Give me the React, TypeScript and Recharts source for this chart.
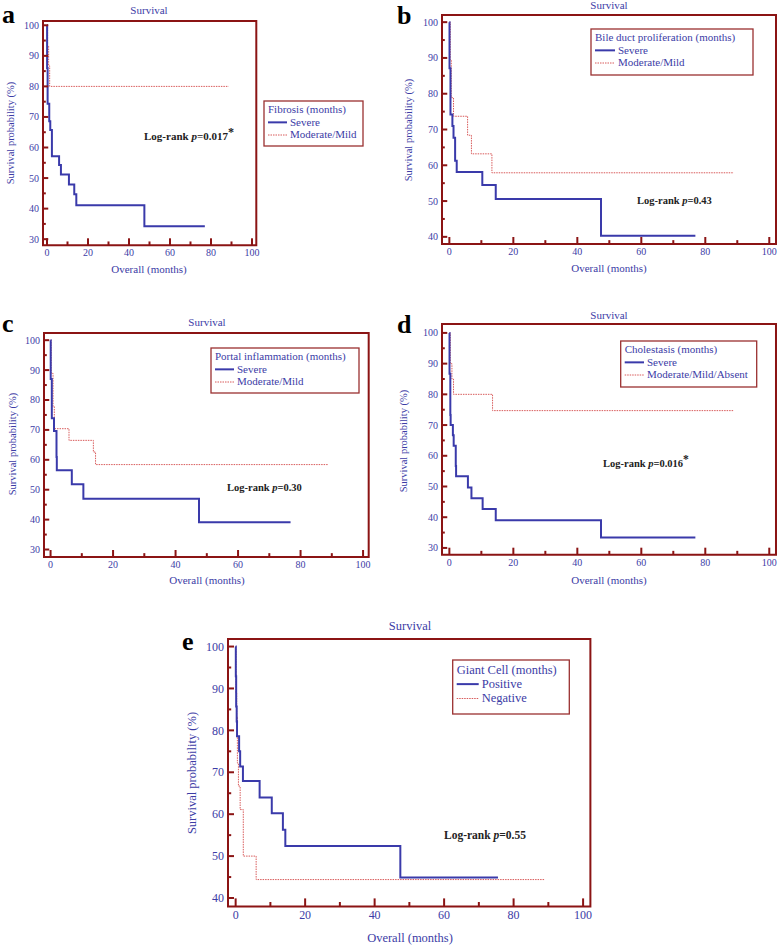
import React from 'react';
import { LineChart, Line, XAxis, YAxis, ReferenceArea } from 'recharts';

const FRAME = '#8b1414';
const BLUE = '#3a3aaa';
const DOTTED = '#d85a5a';
const INK = '#3c3ca6';
const FONT = '"Liberation Serif", "Times New Roman", serif';

// ticks
const xTicks = [0, 10, 20, 30, 40, 50, 60, 70, 80, 90, 100];
const yTicksFrom30 = [30, 35, 40, 45, 50, 55, 60, 65, 70, 75, 80, 85, 90, 95, 100];
const yTicksFrom40 = [40, 45, 50, 55, 60, 65, 70, 75, 80, 85, 90, 95, 100];

// a - fibrosis
const fibSevereT = [0, 0.05, 0.3, 1.1, 1.6, 2.4, 5.9, 6.8, 10.7, 13.3, 14.3, 47.5, 77];
const fibSevereS = [100, 86.0, 74.3, 68.6, 65.7, 57.1, 54.3, 51.2, 47.9, 44.7, 41.1, 34.2, 34.2];
const fibMildT = [0, 0.3, 0.8, 1.3, 88.6];
const fibMildS = [100, 93.3, 86.7, 80, 80];

// b - bile duct proliferation
const bileSevereT = [0, 0.05, 0.35, 0.95, 1.3, 1.8, 2.3, 10.3, 14.5, 47.4, 76.9];
const bileSevereS = [100, 87.1, 74.2, 71.0, 67.7, 61.3, 58.1, 54.5, 50.6, 40.3, 40.3];
const bileMildT = [0, 0.3, 0.6, 1.3, 5.7, 6.9, 13.3, 88.9];
const bileMildS = [100, 89.5, 78.9, 73.7, 68.4, 63.2, 57.9, 57.9];

// c - portal inflammation
const portalSevereT = [0, 0.05, 0.4, 1.1, 1.9, 2.0, 6.8, 10.5, 47.5, 76.8];
const portalSevereS = [100, 87.0, 73.9, 69.6, 60.9, 56.5, 51.8, 47.0, 39.1, 39.1];
const portalMildT = [0, 0.2, 0.8, 1.2, 5.9, 13.7, 14.4, 88.8];
const portalMildS = [100, 88.9, 77.8, 70.4, 66.5, 62.6, 58.4, 58.4];

// d - cholestasis
const cholSevereT = [0, 0.05, 0.3, 0.4, 1.1, 1.35, 2.0, 2.1, 5.8, 6.9, 10.4, 14.5, 47.4, 76.9];
const cholSevereS = [100, 86.7, 73.3, 70, 66.7, 63.3, 56.7, 53.3, 49.7, 46.2, 42.7, 39.0, 33.4, 33.4];
const cholMildT = [0, 0.3, 0.8, 1.3, 13.5, 88.9];
const cholMildS = [100, 90, 85, 80, 74.7, 74.7];

// e - giant cell
const giantPosT = [0, 0.05, 0.15, 0.3, 0.4, 1.0, 1.3, 2.1, 6.9, 10.4, 13.6, 14.3, 47.4, 75.5];
const giantPosS = [100, 92.9, 85.7, 82.1, 78.6, 75.0, 71.4, 67.9, 64.0, 60.2, 56.3, 52.4, 44.9, 44.9];
const giantNegT = [0, 0.1, 0.3, 0.5, 0.8, 1.3, 2.2, 5.9, 89];
const giantNegS = [100, 88.9, 83.3, 72.2, 66.7, 61.1, 50, 44.4, 44.4];

const pts = (t: number[], s: number[]) => t.map((v, i) => ({ t: v, s: s[i] }));

type Frame = { l: number; t: number; r: number; b: number };

interface PanelProps {
  frame: Frame;
  xDom: [number, number];
  yDom: [number, number];
  yTicks: number[];
  fs: number;
  tick: number;
  solid: { t: number; s: number }[];
  dotted: { t: number; s: number }[];
}

function Panel({ frame, xDom, yDom, yTicks, fs, tick, solid, dotted }: PanelProps) {
  const ml = 40, mt = 10, mr = 10, mb = 30;
  const w = frame.r - frame.l + ml + mr;
  const h = frame.b - frame.t + mt + mb;

  const xTick = (p: any) => {
    const v = p.payload.value;
    const major = v % 20 === 0;
    return (
      <g>
        <line x1={p.x} x2={p.x} y1={p.y} y2={p.y - (major ? tick : tick * 0.55)} stroke={FRAME} strokeWidth={2} />
        {major && (
          <text x={p.x} y={p.y + fs + 1} textAnchor="middle" fill={INK} fontSize={fs} fontFamily={FONT}>
            {v}
          </text>
        )}
      </g>
    );
  };

  const yTick = (p: any) => {
    const v = p.payload.value;
    const major = v % 10 === 0;
    return (
      <g>
        <line x1={p.x} x2={p.x + (major ? tick * 0.75 : tick * 0.4)} y1={p.y} y2={p.y} stroke={FRAME} strokeWidth={2} />
        {major && (
          <text x={p.x - 4} y={p.y + fs * 0.35} textAnchor="end" fill={INK} fontSize={fs} fontFamily={FONT}>
            {v}
          </text>
        )}
      </g>
    );
  };

  return (
    <div style={{ position: 'absolute', left: frame.l - ml, top: frame.t - mt }}>
      <LineChart width={w} height={h} margin={{ top: mt, right: mr, bottom: 0, left: 0 }}>
        <XAxis
          dataKey="t"
          type="number"
          domain={xDom}
          allowDataOverflow
          ticks={xTicks}
          interval={0}
          height={mb}
          axisLine={false}
          tickLine={false}
          tickSize={0}
          tickMargin={0}
          tick={xTick}
        />
        <YAxis
          type="number"
          domain={yDom}
          allowDataOverflow
          ticks={yTicks}
          interval={0}
          width={ml}
          axisLine={false}
          tickLine={false}
          tickSize={0}
          tickMargin={0}
          tick={yTick}
        />
        <ReferenceArea x1={xDom[0]} x2={xDom[1]} y1={yDom[0]} y2={yDom[1]} stroke={FRAME} strokeWidth={2} fill="none" fillOpacity={0} />
        <Line data={dotted} dataKey="s" type="stepAfter" stroke={DOTTED} strokeWidth={1} strokeDasharray="1.5 1" dot={false} isAnimationActive={false} />
        <Line data={solid} dataKey="s" type="stepAfter" stroke={BLUE} strokeWidth={2} dot={false} isAnimationActive={false} />
      </LineChart>
    </div>
  );
}

function Legend({ x, y, w, h, fs, title, a, b, tx }: { x: number; y: number; w: number; h: number; fs: number; title: string; a: string; b: string; tx: number }) {
  const lh = fs * 1.15;
  return (
    <g fontFamily={FONT} fontSize={fs} fill={INK}>
      <rect x={x} y={y} width={w} height={h} fill="#fff" stroke="#9a3030" strokeWidth={1.3} />
      <text x={x + 4} y={y + fs + 1}>{title}</text>
      <line x1={x + 4} x2={tx - 3} y1={y + fs + 1 + lh - fs * 0.3} y2={y + fs + 1 + lh - fs * 0.3} stroke={BLUE} strokeWidth={2} />
      <text x={tx} y={y + fs + 1 + lh}>{a}</text>
      <line x1={x + 4} x2={tx - 3} y1={y + fs + 1 + 2 * lh - fs * 0.3} y2={y + fs + 1 + 2 * lh - fs * 0.3} stroke={DOTTED} strokeWidth={1} strokeDasharray="1.5 1" />
      <text x={tx} y={y + fs + 1 + 2 * lh}>{b}</text>
    </g>
  );
}

function LogRank({ x, y, fs, p, star }: { x: number; y: number; fs: number; p: string; star?: boolean }) {
  return (
    <text x={x} y={y} fontFamily={FONT} fontSize={fs} fontWeight="bold" fill="#222">
      Log-rank <tspan fontStyle="italic">p</tspan>={p}
      {star && <tspan dy={-4} fontSize={fs * 1.1}>*</tspan>}
    </text>
  );
}

function Texts() {
  const yLab = (cx: number, cy: number, fs: number) => (
    <text x={cx} y={cy} transform={`rotate(-90 ${cx} ${cy})`} textAnchor="middle" dominantBaseline="central" fontFamily={FONT} fontSize={fs} fill={INK}>
      Survival probability (%)
    </text>
  );
  const mid = (x: number, y: number, fs: number, s: string) => (
    <text x={x} y={y} textAnchor="middle" fontFamily={FONT} fontSize={fs} fill={INK}>{s}</text>
  );
  const letter = (x: number, y: number, s: string) => (
    <text x={x} y={y} fontFamily={FONT} fontSize={26} fontWeight="bold" fill="#000">{s}</text>
  );
  return (
    <svg width={778} height={945} style={{ position: 'absolute', left: 0, top: 0, pointerEvents: 'none' }}>
      {letter(2, 23, 'a')}
      {letter(397, 24, 'b')}
      {letter(2, 332, 'c')}
      {letter(397, 333, 'd')}
      {letter(182, 650, 'e')}

      {mid(149, 14, 11, 'Survival')}
      {mid(609, 9, 11, 'Survival')}
      {mid(207, 326, 11, 'Survival')}
      {mid(609, 319, 11, 'Survival')}
      {mid(410, 630, 12.5, 'Survival')}

      {mid(149, 273, 11, 'Overall (months)')}
      {mid(609, 272, 11, 'Overall (months)')}
      {mid(207, 584, 11, 'Overall (months)')}
      {mid(609, 584, 11, 'Overall (months)')}
      {mid(410, 942, 12.5, 'Overall (months)')}

      {yLab(10, 133, 10.5)}
      {yLab(408, 130, 10.5)}
      {yLab(12, 444, 10.5)}
      {yLab(403, 441, 10.5)}
      {yLab(192, 773, 12.5)}

      <Legend x={264} y={101} w={99} h={45} fs={11} title="Fibrosis (months)" a="Severe" b="Moderate/Mild" tx={290} />
      <Legend x={591} y={29} w={162} h={46} fs={11} title="Bile duct proliferation (months)" a="Severe" b="Moderate/Mild" tx={618} />
      <Legend x={211} y={348} w={148} h={45} fs={11} title="Portal inflammation (months)" a="Severe" b="Moderate/Mild" tx={237} />
      <Legend x={620.7} y={341} w={136} h={46} fs={11} title="Cholestasis (months)" a="Severe" b="Moderate/Mild/Absent" tx={647} />
      <Legend x={452.7} y={660} w={116.6} h={54} fs={12.5} title="Giant Cell (months)" a="Positive" b="Negative" tx={481.7} />

      <LogRank x={144} y={140} fs={11} p="0.017" star />
      <LogRank x={637} y={204} fs={10.5} p="0.43" />
      <LogRank x={227} y={491} fs={10.5} p="0.30" />
      <LogRank x={603} y={467} fs={10.5} p="0.016" star />
      <LogRank x={444} y={839} fs={11.5} p="0.55" />
    </svg>
  );
}

export default function App() {
  return (
    <div style={{ position: 'absolute', left: 0, top: 0, width: 778, height: 945, background: '#fff', overflow: 'hidden' }}>
      <Panel frame={{ l: 42.7, t: 20.7, r: 256, b: 245 }} xDom={[-1.95, 102.1]} yDom={[28, 101.4]} yTicks={yTicksFrom30} fs={10} tick={7}
        solid={pts(fibSevereT, fibSevereS)} dotted={pts(fibMildT, fibMildS)} />
      <Panel frame={{ l: 441.7, t: 15, r: 775.7, b: 244 }} xDom={[-2.3, 102.1]} yDom={[38, 102]} yTicks={yTicksFrom40} fs={10} tick={7}
        solid={pts(bileSevereT, bileSevereS)} dotted={pts(bileMildT, bileMildS)} />
      <Panel frame={{ l: 44.3, t: 332.7, r: 369, b: 556.7 }} xDom={[-2.1, 101.8]} yDom={[27.5, 102.4]} yTicks={yTicksFrom30} fs={10} tick={7}
        solid={pts(portalSevereT, portalSevereS)} dotted={pts(portalMildT, portalMildS)} />
      <Panel frame={{ l: 441.7, t: 324.3, r: 775.7, b: 555 }} xDom={[-2.3, 102.1]} yDom={[27.8, 102.9]} yTicks={yTicksFrom30} fs={10} tick={7}
        solid={pts(cholSevereT, cholSevereS)} dotted={pts(cholMildT, cholMildS)} />
      <Panel frame={{ l: 228.3, t: 639.3, r: 590.7, b: 906.7 }} xDom={[-2.2, 102.1]} yDom={[38, 101.8]} yTicks={yTicksFrom40} fs={12} tick={8}
        solid={pts(giantPosT, giantPosS)} dotted={pts(giantNegT, giantNegS)} />
      <Texts />
    </div>
  );
}
